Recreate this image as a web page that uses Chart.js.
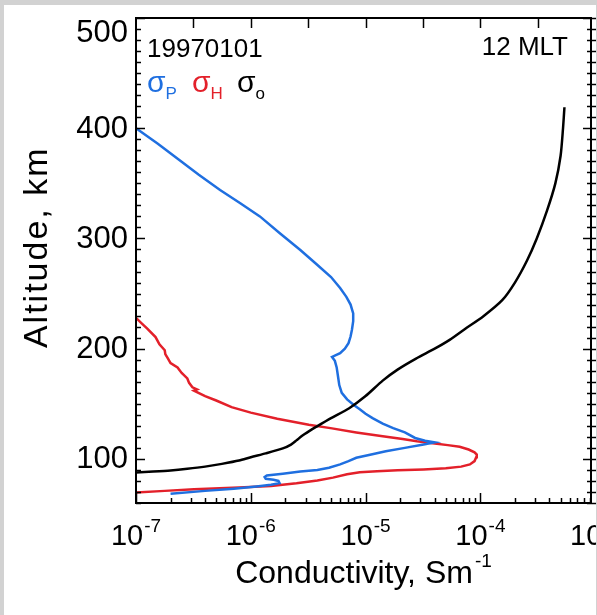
<!DOCTYPE html>
<html>
<head>
<meta charset="utf-8">
<script src="https://cdn.jsdelivr.net/npm/chart.js@4/dist/chart.umd.min.js"></script>
<style>
  html, body { margin: 0; padding: 0; background: #d2d2d2; overflow: hidden; }
  .panel { position: absolute; left: 4px; top: 5px; width: 592px; height: 610px; background: #fff; }
  canvas { display: block; }
</style>
</head>
<body>
<div class="panel"><canvas id="cond-chart" width="592" height="610"></canvas></div>
<script>
// Conductivity profiles, 1997-01-01, 12 MLT

const dateLabel = '19970101';
const mltLabel = '12 MLT';
const yTicks = [100, 200, 300, 400, 500];
const xTicks = [1e-7, 1e-6, 1e-5, 1e-4, 1e-3];
const xTickExp = ['-7', '-6', '-5', '-4', '-3'];

// Pedersen (blue)
const pedAlt = [68.5, 71, 73, 75, 76.5, 78, 80, 81, 82, 83.5, 85, 86.5, 88.5, 90, 92, 95, 98, 101, 104, 107, 110, 113, 115,
    116.5, 119, 124, 128, 132, 137, 141, 145, 149, 154, 160, 167, 175, 183, 189, 192.5, 196, 200, 205, 211, 217, 225, 232,
    240, 247, 255, 265, 277, 289.5, 305, 320, 332, 344, 358, 371, 386, 400];
const pedVal = [2.0e-7, 4.0e-7, 7.1e-7, 1.12e-6, 1.5e-6, 1.78e-6, 1.74e-6, 1.58e-6, 1.35e-6, 1.32e-6, 1.38e-6, 1.9e-6, 2.7e-6,
    3.8e-6, 4.8e-6, 6.0e-6, 7.1e-6, 8.3e-6, 1.12e-5, 1.5e-5, 2.2e-5, 3.2e-5, 4.0e-5,
    3.3e-5, 2.7e-5, 2.2e-5, 1.74e-5, 1.41e-5, 1.15e-5, 1.0e-5, 8.9e-6, 7.9e-6, 6.9e-6, 6.2e-6, 5.9e-6, 5.75e-6, 5.6e-6,
    5.4e-6, 5.1e-6, 6.0e-6, 6.6e-6, 7.1e-6, 7.4e-6, 7.6e-6, 7.8e-6, 7.8e-6, 7.4e-6, 6.8e-6, 6.0e-6, 5.0e-6, 3.7e-6,
    2.7e-6, 1.78e-6, 1.2e-6, 8.1e-7, 5.4e-7, 3.5e-7, 2.4e-7, 1.55e-7, 1.0e-7];

// Hall (red)
const hallAlt = [69.5, 71, 72.5, 74, 75.5, 78, 80.5, 83, 86, 87.8, 88.8, 89.6, 90.5, 91.5, 93, 95, 98, 101.5, 104, 106, 108.5,
    111, 112.5, 114, 116, 118, 120.5, 124, 127.7, 131, 136.5, 142, 147, 153, 157, 160, 162, 163, 165, 169, 173, 178, 183,
    187, 191, 195, 198.6, 204, 210.5, 218, 223, 228];
const hallVal = [1.0e-7, 1.78e-7, 3.2e-7, 7.9e-7, 1.5e-6, 2.5e-6, 3.8e-6, 5.2e-6, 6.9e-6, 8.9e-6, 1.26e-5, 1.9e-5, 3.2e-5,
    5.0e-5, 6.8e-5, 8.1e-5, 8.9e-5, 9.2e-5, 9.3e-5, 8.9e-5, 7.9e-5, 6.6e-5, 5.2e-5, 4.0e-5, 2.8e-5, 2.1e-5, 1.41e-5,
    8.3e-6, 5.1e-6, 3.2e-6, 1.7e-6, 1.0e-6, 6.8e-7, 5.0e-7, 4.0e-7, 3.5e-7, 3.2e-7, 3.4e-7, 3.1e-7, 2.9e-7, 2.8e-7,
    2.5e-7, 2.3e-7, 2.0e-7, 1.9e-7, 1.8e-7, 1.78e-7, 1.6e-7, 1.48e-7, 1.26e-7, 1.12e-7, 1.0e-7];

// Parallel / direct (black)
const parAlt = [87.7, 88.5, 89.5, 91, 93, 95.5, 98.5, 101.5, 105, 109.5, 113, 116.8, 121, 125, 129, 137, 146, 157, 171, 181,
    191, 200, 208, 219, 229, 244, 260, 280, 300, 325, 350, 375, 400, 419];
const parVal = [1.0e-7, 1.41e-7, 2.0e-7, 2.8e-7, 4.0e-7, 5.6e-7, 7.9e-7, 1.0e-6, 1.35e-6, 1.9e-6, 2.24e-6, 2.5e-6, 2.8e-6,
    3.2e-6, 3.7e-6, 5.0e-6, 7.2e-6, 1.0e-5, 1.41e-5, 1.9e-5, 2.75e-5, 4.0e-5, 5.4e-5, 7.6e-5, 1.05e-4, 1.55e-4, 2.0e-4,
    2.55e-4, 3.1e-4, 3.8e-4, 4.5e-4, 5.0e-4, 5.25e-4, 5.4e-4];

const FONT = '"Liberation Sans", Arial, sans-serif';

function toPoints(vals, alts) {
    return vals.map((v, i) => ({ x: v, y: alts[i] }));
}

function line(ctx, x1, y1, x2, y2) {
    ctx.beginPath();
    ctx.moveTo(x1, y1);
    ctx.lineTo(x2, y2);
    ctx.stroke();
}

// frame, inward ticks, labels and annotations (all placed with the chart scales)
const framePlugin = {
    id: 'frame',
    afterDatasetsDraw(chart) {
        const ctx = chart.ctx;
        const xs = chart.scales.x;
        const ys = chart.scales.y;
        const { left, right, top, bottom } = chart.chartArea;

        ctx.save();
        ctx.strokeStyle = '#000';
        ctx.lineWidth = 2;
        ctx.strokeRect(left, top, right - left, bottom - top);

        // y ticks, every 10 km
        ctx.lineWidth = 1.5;
        for (let v = ys.min; v <= ys.max; v += 10) {
            const py = Math.round(ys.getPixelForValue(v)) + 0.5;
            const major = yTicks.includes(v);
            line(ctx, left, py, left + (major ? 9 : 5), py);
            line(ctx, right - (major ? 8 : 4), py, right + 5, py);
        }

        // bottom ticks, log minor
        for (let d = -7; d <= -4; d++) {
            for (let m = 1; m <= 9; m++) {
                const v = m * Math.pow(10, d);
                if (v > xs.max) continue;
                const px = Math.round(xs.getPixelForValue(v)) + 0.5;
                line(ctx, px, bottom, px, bottom - (m === 1 ? 10 : 5));
            }
        }
        // top ticks, half decades
        for (let k = -13; k <= -7; k++) {
            const px = Math.round(xs.getPixelForValue(Math.pow(10, k / 2))) + 0.5;
            line(ctx, px, top, px, top + 10);
        }

        ctx.fillStyle = '#000';

        // y tick labels
        ctx.font = '31px ' + FONT;
        ctx.textAlign = 'right';
        yTicks.forEach(v => {
            const py = ys.getPixelForValue(v);
            if (v === ys.max) {
                ctx.textBaseline = 'top';
                ctx.fillText(String(v), left - 8, py);
            } else {
                ctx.textBaseline = 'middle';
                ctx.fillText(String(v), left - 8, py + 1);
            }
        });

        // x tick labels with exponents
        ctx.textBaseline = 'alphabetic';
        ctx.textAlign = 'left';
        xTicks.forEach((v, i) => {
            const px = xs.getPixelForValue(v);
            ctx.font = '29px ' + FONT;
            const wBase = ctx.measureText('10').width;
            ctx.font = '19px ' + FONT;
            const wExp = ctx.measureText(xTickExp[i]).width;
            const x0 = px - (wBase + wExp + 1) / 2;
            ctx.font = '29px ' + FONT;
            ctx.fillText('10', x0, bottom + 42);
            ctx.font = '19px ' + FONT;
            ctx.fillText(xTickExp[i], x0 + wBase + 1, bottom + 29);
        });

        // x title
        ctx.font = '32px ' + FONT;
        const tMain = 'Conductivity, Sm';
        const wMain = ctx.measureText(tMain).width;
        ctx.font = '19px ' + FONT;
        const wSup = ctx.measureText('-1').width;
        const cx = (left + right) / 2;
        const tx = cx - (wMain + wSup + 2) / 2;
        ctx.font = '32px ' + FONT;
        ctx.fillText(tMain, tx, bottom + 80);
        ctx.font = '19px ' + FONT;
        ctx.fillText('-1', tx + wMain + 2, bottom + 64);

        // y title
        ctx.save();
        ctx.translate(43, ys.getPixelForValue(292));
        ctx.rotate(-Math.PI / 2);
        ctx.font = '34px ' + FONT;
        ctx.letterSpacing = '2px';
        ctx.textAlign = 'center';
        ctx.fillText('Altitude, km', 0, 0);
        ctx.restore();

        // annotations
        ctx.font = '26px ' + FONT;
        ctx.textAlign = 'left';
        ctx.fillText(dateLabel, left + 11, top + 39);
        ctx.textAlign = 'right';
        ctx.fillText(mltLabel, right - 23, top + 37);

        // legend
        ctx.textAlign = 'left';
        const legend = [
            { sub: 'P', color: chart.data.datasets[0].borderColor },
            { sub: 'H', color: chart.data.datasets[1].borderColor },
            { sub: 'o', color: chart.data.datasets[2].borderColor }
        ];
        let lx = left + 11;
        legend.forEach(item => {
            ctx.fillStyle = item.color;
            ctx.font = '30px ' + FONT;
            ctx.fillText('σ', lx, top + 74);
            const w = ctx.measureText('σ').width;
            ctx.font = '17px ' + FONT;
            ctx.fillText(item.sub, lx + w, top + 81);
            lx += 45;
        });

        ctx.restore();
    }
};

const ctx = document.getElementById('cond-chart').getContext('2d');

new Chart(ctx, {
    type: 'scatter',
    data: {
        datasets: [
            {
                label: 'σP',
                data: toPoints(pedVal, pedAlt),
                borderColor: '#1f6fe0',
                showLine: true,
                borderWidth: 2.5,
                pointRadius: 0,
                order: 2
            },
            {
                label: 'σH',
                data: toPoints(hallVal, hallAlt),
                borderColor: '#e3202a',
                showLine: true,
                borderWidth: 2.5,
                pointRadius: 0,
                order: 3
            },
            {
                label: 'σo',
                data: toPoints(parVal, parAlt),
                borderColor: '#000000',
                showLine: true,
                borderWidth: 2.5,
                pointRadius: 0,
                tension: 0.25,
                order: 1
            }
        ]
    },
    options: {
        responsive: false,
        animation: false,
        devicePixelRatio: 1,
        layout: {
            padding: { left: 132, top: 13, right: 5, bottom: 112 }
        },
        plugins: {
            legend: { display: false },
            tooltip: { enabled: false }
        },
        scales: {
            x: {
                type: 'logarithmic',
                display: false,
                min: 1e-7,
                max: 9.2e-4
            },
            y: {
                type: 'linear',
                display: false,
                min: 60,
                max: 500
            }
        }
    },
    plugins: [framePlugin]
});
</script>
</body>
</html>
